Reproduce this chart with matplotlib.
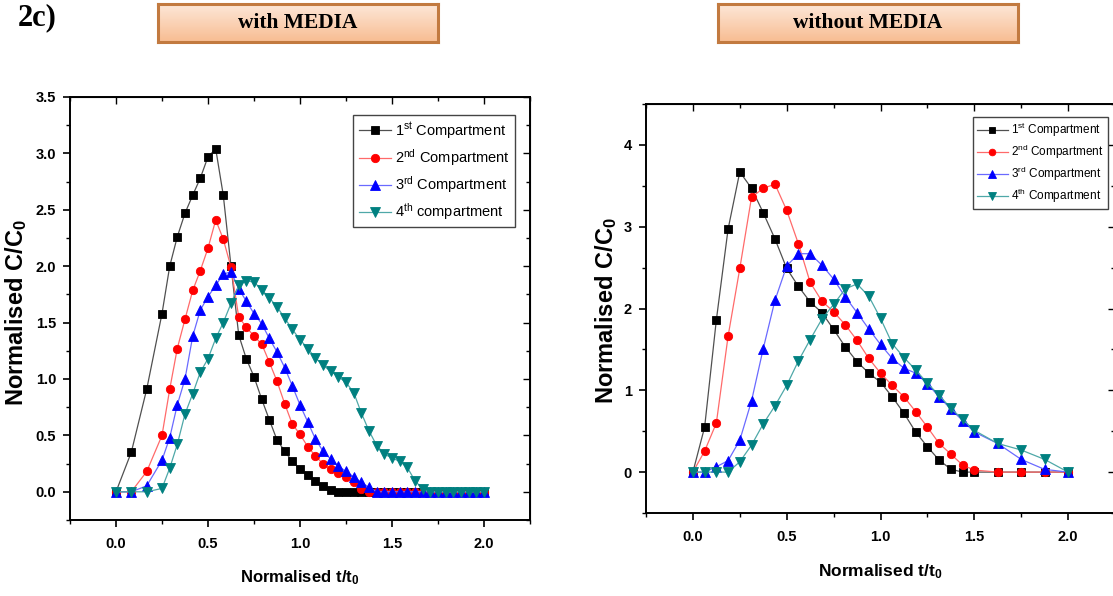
import matplotlib
matplotlib.use('Agg')
import matplotlib.pyplot as plt
import numpy as np
from matplotlib.ticker import MultipleLocator
from matplotlib.colors import LinearSegmentedColormap

plt.rcParams['font.family'] = ['Liberation Sans', 'DejaVu Sans']
plt.rcParams['font.weight'] = 'bold'
plt.rcParams['mathtext.fontset'] = 'custom'
plt.rcParams['mathtext.rm'] = 'Liberation Sans:normal'
plt.rcParams['mathtext.bf'] = 'Liberation Sans:bold'
plt.rcParams['mathtext.it'] = 'Liberation Sans:italic'

# --- with MEDIA : normalised time and C/C0 per compartment ---
t_media = [0.0, 0.083, 0.167, 0.25, 0.292, 0.333, 0.375, 0.417, 0.458, 0.5,
           0.542, 0.583, 0.625, 0.667, 0.708, 0.75, 0.792, 0.833, 0.875, 0.917,
           0.958, 1.0, 1.042, 1.083, 1.125, 1.167, 1.208, 1.25, 1.292, 1.333,
           1.375, 1.417, 1.458, 1.5, 1.542, 1.583, 1.625, 1.667, 1.708, 1.75,
           1.792, 1.833, 1.875, 1.917, 1.958, 2.0]
c1_media = [0, 0.35, 0.91, 1.58, 2.0, 2.26, 2.47, 2.63, 2.78, 2.97,
            3.04, 2.63, 2.0, 1.39, 1.18, 1.02, 0.82, 0.64, 0.46, 0.36,
            0.27, 0.2, 0.145, 0.1, 0.055, 0.015, 0, 0, 0, 0,
            0, 0, 0, 0, 0, 0, 0, 0, 0, 0,
            0, 0, 0, 0, 0, 0]
c2_media = [0, 0, 0.18, 0.5, 0.91, 1.27, 1.53, 1.785, 1.96, 2.16,
            2.41, 2.24, 1.99, 1.55, 1.46, 1.38, 1.31, 1.15, 0.98, 0.78,
            0.6, 0.51, 0.4, 0.32, 0.246, 0.2, 0.163, 0.127, 0.083, 0.024,
            0, 0, 0, 0, 0, 0, 0, 0, 0, 0,
            0, 0, 0, 0, 0, 0]
c3_media = [0, 0, 0.053, 0.28, 0.48, 0.77, 1.0, 1.38, 1.61, 1.73,
            1.83, 1.93, 1.95, 1.8, 1.69, 1.58, 1.49, 1.36, 1.24, 1.1,
            0.94, 0.77, 0.62, 0.47, 0.36, 0.29, 0.23, 0.18, 0.133, 0.083,
            0.04, 0, 0, 0, 0, 0, 0, 0, 0, 0,
            0, 0, 0, 0, 0, 0]
c4_media = [0, 0, 0, 0.03, 0.21, 0.42, 0.69, 0.87, 1.06, 1.18,
            1.36, 1.5, 1.67, 1.83, 1.87, 1.86, 1.79, 1.72, 1.64, 1.54,
            1.44, 1.35, 1.27, 1.19, 1.12, 1.07, 1.02, 0.97, 0.88, 0.70,
            0.54, 0.41, 0.335, 0.3, 0.27, 0.216, 0.098, 0.024, 0, 0,
            0, 0, 0, 0, 0, 0]

# --- without MEDIA ---
t_nomedia = [0.0, 0.0625, 0.125, 0.1875, 0.25, 0.3125, 0.375, 0.4375, 0.5,
             0.5625, 0.625, 0.6875, 0.75, 0.8125, 0.875, 0.9375, 1.0, 1.0625,
             1.125, 1.1875, 1.25, 1.3125, 1.375, 1.4375, 1.5, 1.625, 1.75,
             1.875, 2.0]
c1_nomedia = [0, 0.55, 1.86, 2.97, 3.67, 3.47, 3.17, 2.85, 2.49, 2.27,
              2.08, 1.95, 1.745, 1.53, 1.35, 1.21, 1.1, 0.92, 0.72, 0.49,
              0.31, 0.147, 0.035, 0, 0, 0, 0, 0, 0]
c2_nomedia = [0, 0.257, 0.6, 1.66, 2.49, 3.36, 3.47, 3.52, 3.2, 2.79,
              2.32, 2.09, 1.96, 1.8, 1.61, 1.39, 1.21, 1.06, 0.92, 0.74,
              0.55, 0.35, 0.22, 0.086, 0.025, 0, 0, 0, 0]
c3_nomedia = [0, 0, 0.065, 0.14, 0.39, 0.87, 1.51, 2.1, 2.52, 2.67,
              2.67, 2.53, 2.36, 2.14, 1.95, 1.75, 1.56, 1.39, 1.27, 1.21,
              1.08, 0.92, 0.77, 0.63, 0.49, 0.35, 0.155, 0.033, 0]
c4_nomedia = [0, 0, 0, 0, 0.126, 0.33, 0.59, 0.81, 1.06, 1.36,
              1.62, 1.87, 2.05, 2.24, 2.3, 2.15, 1.88, 1.57, 1.4, 1.25,
              1.085, 0.94, 0.78, 0.645, 0.51, 0.35, 0.27, 0.155, 0]

labels_media = ['1$^{\\mathrm{st}}$ Compartment', '2$^{\\mathrm{nd}}$ Compartment',
                '3$^{\\mathrm{rd}}$ Compartment', '4$^{\\mathrm{th}}$ compartment']
labels_nomedia = ['1$^{\\mathrm{st}}$ Compartment', '2$^{\\mathrm{nd}}$ Compartment',
                  '3$^{\\mathrm{rd}}$ Compartment', '4$^{\\mathrm{th}}$ Compartment']

colors = ['black', 'red', 'blue', '#008080']
line_colors = ['#505050', '#ff6a6a', '#6a6aff', '#4fa8a8']
markers = ['s', 'o', '^', 'v']
msizes = [5.5, 6, 6.5, 6.5]

fig = plt.figure(figsize=(11.13, 5.96), dpi=100)


def draw_panel(ax, t, series, labels):
    for y, c, lc, m, s, lab in zip(series, colors, line_colors, markers, msizes, labels):
        ax.plot(t, y, color=lc, marker=m, markersize=s, lw=0.9,
                markerfacecolor=c, markeredgecolor=c, markeredgewidth=0.6,
                label=lab)


def style_axes(ax, xlim, ylim, ymaj, ymin):
    ax.set_xlim(*xlim)
    ax.set_ylim(*ylim)
    ax.xaxis.set_major_locator(MultipleLocator(0.5))
    ax.xaxis.set_minor_locator(MultipleLocator(0.25))
    ax.yaxis.set_major_locator(MultipleLocator(ymaj))
    ax.yaxis.set_minor_locator(MultipleLocator(ymin))
    ax.tick_params(which='major', direction='out', length=5, width=1.2,
                   labelsize=10.5, pad=5)
    ax.tick_params(which='minor', direction='out', length=3, width=1.0)
    ax.tick_params(axis='x', which='major', pad=7)
    for s in ax.spines.values():
        s.set_linewidth(1.4)
    # mirrored ticks on top / right, pointing inwards
    top = ax.secondary_xaxis('top')
    top.xaxis.set_major_locator(MultipleLocator(0.5))
    top.xaxis.set_minor_locator(MultipleLocator(0.25))
    top.tick_params(which='both', direction='in', labeltop=False, width=1.0)
    top.tick_params(which='major', length=5)
    top.tick_params(which='minor', length=3)
    right = ax.secondary_yaxis('right')
    right.yaxis.set_major_locator(MultipleLocator(ymaj))
    right.yaxis.set_minor_locator(MultipleLocator(ymin))
    right.tick_params(which='both', direction='in', labelright=False, width=1.0)
    right.tick_params(which='major', length=5)
    right.tick_params(which='minor', length=3)


def title_box(rect, text):
    bax = fig.add_axes(rect)
    grad = np.linspace(0, 1, 64).reshape(-1, 1)
    cmap = LinearSegmentedColormap.from_list('peach', ['#fde7d8', '#f8bd92'])
    bax.imshow(grad, aspect='auto', cmap=cmap, extent=[0, 1, 0, 1])
    bax.set_xticks([])
    bax.set_yticks([])
    for s in bax.spines.values():
        s.set_color('#c27a40')
        s.set_linewidth(2.2)
    bax.text(0.5, 0.5, text, ha='center', va='center', transform=bax.transAxes,
             family='Liberation Serif', weight='bold', size=15.5)


# left panel: with MEDIA
ax1 = fig.add_axes([70 / 1113, 1 - 520 / 596, 460 / 1113, 423 / 596])
draw_panel(ax1, t_media, [c1_media, c2_media, c3_media, c4_media], labels_media)
style_axes(ax1, (-0.25, 2.25), (-0.25, 3.5), 0.5, 0.25)
ax1.set_xlabel(r'$\mathbf{Normalised\ t/t_{0}}$', fontsize=12)
ax1.set_ylabel(r'$\mathbf{Normalised\ C/C_{0}}$', fontsize=17)
ax1.xaxis.set_label_coords(0.5, -0.115)
ax1.yaxis.set_label_coords(-0.09, 0.49)
leg1 = ax1.legend(loc='upper right', bbox_to_anchor=(0.967, 0.957), borderaxespad=0,
                  fancybox=False, edgecolor='#444444', framealpha=1,
                  prop={'weight': 'normal', 'size': 10.5},
                  handlelength=2.2, handletextpad=0.3, labelspacing=0.42,
                  borderpad=0.35)
leg1.get_frame().set_linewidth(1.0)

# right panel: without MEDIA
ax2 = fig.add_axes([646 / 1113, 1 - 513 / 596, 469 / 1113, 409 / 596])
draw_panel(ax2, t_nomedia, [c1_nomedia, c2_nomedia, c3_nomedia, c4_nomedia],
           labels_nomedia)
style_axes(ax2, (-0.25, 2.25), (-0.5, 4.5), 1, 0.5)
ax2.set_xlabel(r'$\mathbf{Normalised\ t/t_{0}}$', fontsize=12.5)
ax2.set_ylabel(r'$\mathbf{Normalised\ C/C_{0}}$', fontsize=17)
ax2.xaxis.set_label_coords(0.499, -0.12)
ax2.yaxis.set_label_coords(-0.058, 0.496)
leg2 = ax2.legend(loc='upper right', bbox_to_anchor=(0.985, 0.968), borderaxespad=0,
                  fancybox=False, edgecolor='#444444', framealpha=1,
                  prop={'weight': 'normal', 'size': 8.5, 'stretch': 'condensed'},
                  handlelength=2.6, handletextpad=0.3, labelspacing=0.3,
                  borderpad=0.35, markerscale=0.8)
leg2.get_frame().set_linewidth(1.0)

title_box([158 / 1113, 1 - 42 / 596, 280 / 1113, 38 / 596], 'with MEDIA')
title_box([718 / 1113, 1 - 42 / 596, 300 / 1113, 38 / 596], 'without MEDIA')

fig.text(18 / 1113, 1 - 25 / 596, '2c)', family='Liberation Serif', weight='bold',
         size=22, va='baseline', ha='left')

fig.savefig('out.png', dpi=100)
